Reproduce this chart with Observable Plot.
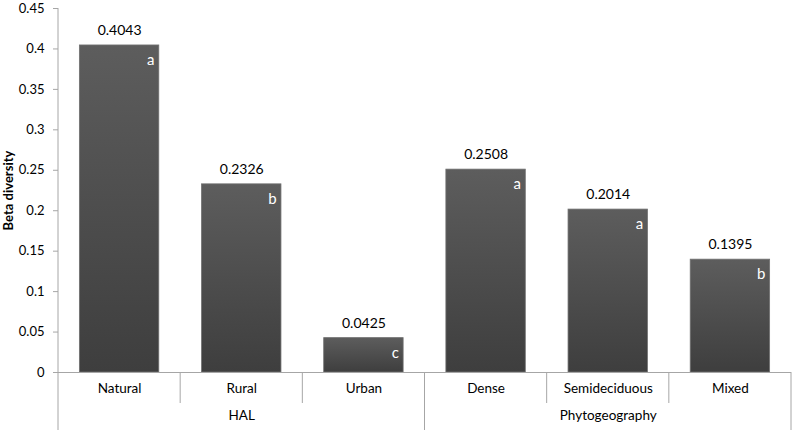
<!DOCTYPE html>
<html><head><meta charset="utf-8">
<script src="https://cdn.jsdelivr.net/npm/d3@7"></script>
<script src="https://cdn.jsdelivr.net/npm/@observablehq/plot@0.6"></script>
<style>
body{margin:0;background:#fff}
g[aria-label="y-axis label"] text{font-weight:bold}
</style>
</head><body><div id="chart"></div>
<script>
const categories = ["Natural","Rural","Urban","Dense","Semideciduous","Mixed"];
const values = [0.4043,0.2326,0.0425,0.2508,0.2014,0.1395];
const letters = ["a","b","c","a","a","b"];
const groupOf = ["HAL","HAL","HAL","Phytogeography","Phytogeography","Phytogeography"];
const groupNames = ["HAL","Phytogeography"];
const yTicks = [0,0.05,0.1,0.15,0.2,0.25,0.3,0.35,0.4,0.45];

const data = categories.map((c,i)=>({cat:c, value:values[i], letter:letters[i], group:groupOf[i]}));
const groups = groupNames.map(g => {
  const m = data.filter(d=>d.group===g);
  return {name:g, mid:m[Math.floor(m.length/2)].cat};
});
const fmt = d => String(+d.toFixed(2));
const font = "Lato, 'Open Sans', sans-serif";

const plot = Plot.plot({
  width:793, height:430,
  marginLeft:58, marginRight:2, marginTop:8, marginBottom:58,
  style:{fontFamily:font, fontSize:"13px", color:"#000", background:"#fff", overflow:"visible"},
  x:{domain:categories, paddingInner:0.35, paddingOuter:0.175, round:false, axis:null},
  y:{domain:[0,0.45], axis:null},
  marks:[
    Plot.axisY({ticks:yTicks, tickFormat:fmt, tickSize:5, tickPadding:9, stroke:"#a6a6a6",
      fill:"#000", fontSize:13, label:"Beta diversity", labelAnchor:"center", labelArrow:"none", labelOffset:55}),
    Plot.barY(data, {x:"cat", y:"value", fill:"url(#barGrad)", stroke:"#707070", strokeWidth:0.8}),
    Plot.ruleY([0], {stroke:"#a6a6a6"}),
    Plot.text(data, {x:"cat", y:"value", text:d=>d.value.toFixed(4), dy:-15, fontSize:14, fill:"#000"}),
    Plot.text(data, {x:"cat", y:"value", text:"letter", fill:"white", textAnchor:"end", dx:35, dy:15, fontSize:15}),
    Plot.text(data, {x:"cat", frameAnchor:"bottom", text:"cat", dy:20, fontSize:13.5, fill:"#000"}),
    Plot.text(groups, {x:"mid", frameAnchor:"bottom", text:"name", dy:47, fontSize:13.5, fill:"#000"})
  ]
});

const svg = d3.select(plot);
const grad = svg.insert("defs", ":first-child").append("linearGradient")
  .attr("id","barGrad").attr("x1",0).attr("y1",0).attr("x2",0).attr("y2",1);
grad.append("stop").attr("offset","0%").attr("stop-color","#5d5d5d");
grad.append("stop").attr("offset","100%").attr("stop-color","#3e3e3e");

const xs = plot.scale("x"), ys = plot.scale("y");
const y0 = ys.apply(0), yTop = ys.apply(0.45);
const bottom = 430;
const g = svg.append("g").attr("stroke","#a6a6a6").attr("stroke-width",1);
g.append("line").attr("x1",xs.range[0]).attr("x2",xs.range[0]).attr("y1",yTop).attr("y2",bottom);
for (let i=1;i<=categories.length;i++){
  let bx;
  if (i===categories.length) bx = xs.range[1];
  else bx = (xs.apply(categories[i-1]) + xs.bandwidth + xs.apply(categories[i]))/2;
  const groupEdge = i===categories.length || groupOf[i-1]!==groupOf[i];
  g.append("line").attr("x1",bx).attr("x2",bx).attr("y1",y0).attr("y2", groupEdge ? bottom : y0+31);
}
document.getElementById("chart").appendChild(plot);
</script>
</body></html>
